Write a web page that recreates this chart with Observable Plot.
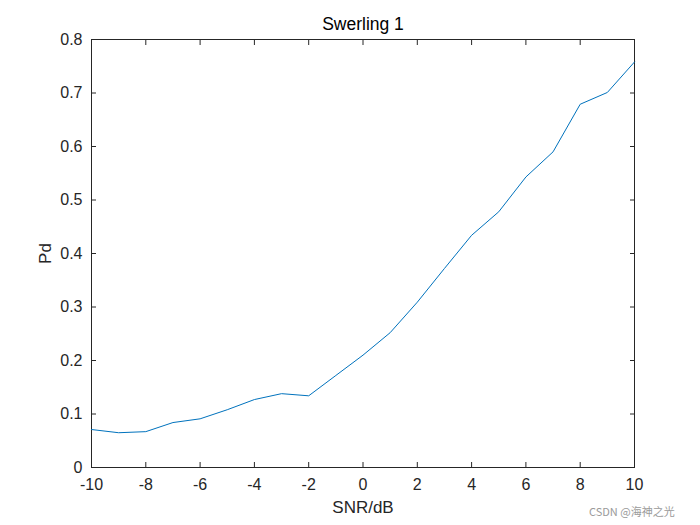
<!DOCTYPE html>
<html>
<head>
<meta charset="utf-8">
<script src="https://cdn.jsdelivr.net/npm/d3@7"></script>
<script src="https://cdn.jsdelivr.net/npm/@observablehq/plot@0.6"></script>
<style>
  html, body { margin: 0; padding: 0; background: #fff; }
  #wrap { position: relative; width: 700px; height: 525px; }
  #wm { position: absolute; left: 589px; top: 503px; font-family: "Noto Sans CJK SC", "Liberation Sans", sans-serif; font-size: 11px; color: #9a9a9a; }
</style>
</head>
<body>
<div id="wrap"><div id="wm">CSDN @海神之光</div></div>
<script>
const snr = [-10,-9,-8,-7,-6,-5,-4,-3,-2,-1,0,1,2,3,4,5,6,7,8,9,10];
const pd  = [0.071,0.065,0.067,0.084,0.091,0.108,0.127,0.138,0.134,0.172,0.210,0.252,0.309,0.372,0.434,0.478,0.543,0.590,0.679,0.701,0.758];
const xTicks = [-10,-8,-6,-4,-2,0,2,4,6,8,10];
const yTicks = [0,0.1,0.2,0.3,0.4,0.5,0.6,0.7,0.8];
const data = snr.map((s, i) => ({snr: s, pd: pd[i]}));
const font = "'Liberation Sans', Arial, Helvetica, sans-serif";
const fmtX = d => String(d);
const fmtY = d => d === 0 ? "0" : d3.format(".1f")(d);

const chart = Plot.plot({
  width: 700,
  height: 525,
  marginLeft: 91,
  marginRight: 66,
  marginTop: 39,
  marginBottom: 58,
  style: {fontFamily: font, fontSize: "16px", color: "#262626", background: "#fff"},
  x: {domain: [-10, 10]},
  y: {domain: [0, 0.8]},
  marks: [
    Plot.frame({stroke: "#262626", strokeWidth: 1}),
    Plot.axisX(xTicks, {anchor: "bottom", tickSize: -5, tickPadding: 16, fontSize: 16, tickFormat: fmtX, stroke: "#262626", fill: "#262626", label: null}),
    Plot.axisX(xTicks, {anchor: "top", tickSize: -5, tickFormat: () => "", stroke: "#262626", label: null}),
    Plot.axisY(yTicks, {anchor: "left", tickSize: -5, tickPadding: 14, fontSize: 16, tickFormat: fmtY, stroke: "#262626", fill: "#262626", label: null}),
    Plot.axisY(yTicks, {anchor: "right", tickSize: -5, tickFormat: () => "", stroke: "#262626", label: null}),
    Plot.line(data, {x: "snr", y: "pd", stroke: "#0072BD", strokeWidth: 1}),
    Plot.text(["Swerling 1"], {frameAnchor: "top", lineAnchor: "top", dy: -22, fontSize: 17.5, fill: "#000"}),
    Plot.text(["SNR/dB"], {frameAnchor: "bottom", lineAnchor: "top", dy: 33, fontSize: 17, fill: "#262626"}),
    Plot.text(["Pd"], {frameAnchor: "left", textAnchor: "middle", lineAnchor: "middle", dx: -46, rotate: -90, fontSize: 17, fill: "#262626"})
  ]
});
document.getElementById("wrap").prepend(chart);
</script>
</body>
</html>
